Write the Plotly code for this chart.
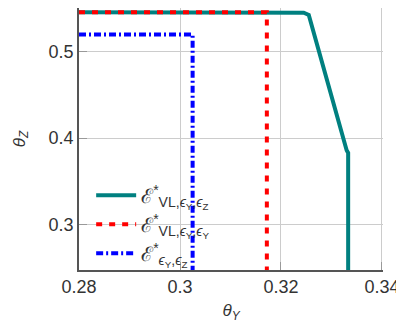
import plotly.graph_objects as go

# Data
teal_x = [0.28, 0.3225, 0.3245, 0.3255, 0.3275, 0.3298, 0.3330, 0.3333, 0.3333]
teal_y = [0.545, 0.545, 0.5445, 0.542, 0.500, 0.454, 0.386, 0.383, 0.248]
red_x = [0.28, 0.3172, 0.3172]
red_y = [0.545, 0.545, 0.248]
blue_x = [0.28, 0.3025, 0.3025]
blue_y = [0.5195, 0.5195, 0.248]

names = [
    "ℰ<sup>*</sup><sub>VL,<i>ϵ</i><sub>Y</sub>,<i>ϵ</i><sub>Z</sub></sub>",
    "ℰ<sup>*</sup><sub>VL,<i>ϵ</i><sub>Y</sub>,<i>ϵ</i><sub>Y</sub></sub>",
    "ℰ<sup>*</sup><sub><i>ϵ</i><sub>Y</sub>,<i>ϵ</i><sub>Z</sub></sub>",
]
x_ticks = [0.28, 0.30, 0.32, 0.34]
x_ticklabels = ["0.28", "0.3", "0.32", "0.34"]
y_ticks = [0.3, 0.4, 0.5]
y_ticklabels = ["0.3", "0.4", "0.5"]

fig = go.Figure()
fig.add_trace(go.Scatter(x=teal_x, y=teal_y, mode="lines", name=names[0],
                         line=dict(color="#008080", width=4)))
fig.add_trace(go.Scatter(x=red_x, y=red_y, mode="lines", name=names[1],
                         line=dict(color="#ff0000", width=4, dash="6px,7px")))
fig.add_trace(go.Scatter(x=blue_x, y=blue_y, mode="lines", name=names[2],
                         line=dict(color="#0000ff", width=4, dash="7px,3px,2px,3px")))

# page body has an 8px default margin, so the figure is drawn 8px smaller
fig.update_layout(
    width=396, height=315,
    margin=dict(l=71, r=21, t=0, b=53),
    plot_bgcolor="white", paper_bgcolor="white",
    font=dict(family="Liberation Sans, Arial, sans-serif", size=18, color="#333333"),
    legend=dict(x=0.04, y=0.36, xanchor="left", yanchor="top",
                bgcolor="rgba(0,0,0,0)", font=dict(size=20),
                itemwidth=40, tracegroupgap=0),
    showlegend=True,
)
fig.update_xaxes(range=[0.28, 0.3402], tickvals=x_ticks, ticktext=x_ticklabels,
                 showgrid=True, gridcolor="#cccccc", gridwidth=1,
                 showline=True, linecolor="#555555", linewidth=1.5,
                 ticks="inside", ticklen=8, tickcolor="#999999",
                 zeroline=False, automargin=False, ticklabeloverflow="allow",
                 title=dict(text="<i>θ</i><sub><i>Y</i></sub>", standoff=22,
                            font=dict(size=17)))
fig.update_yaxes(range=[0.248, 0.55], tickvals=y_ticks, ticktext=y_ticklabels,
                 showgrid=True, gridcolor="#cccccc", gridwidth=1,
                 showline=True, linecolor="#555555", linewidth=1.5,
                 ticks="inside", ticklen=8, tickcolor="#999999",
                 zeroline=False, automargin=False,
                 title=dict(text="<i>θ</i><sub><i>Z</i></sub>", standoff=19,
                            font=dict(size=17)))

fig.write_html("out.html")
